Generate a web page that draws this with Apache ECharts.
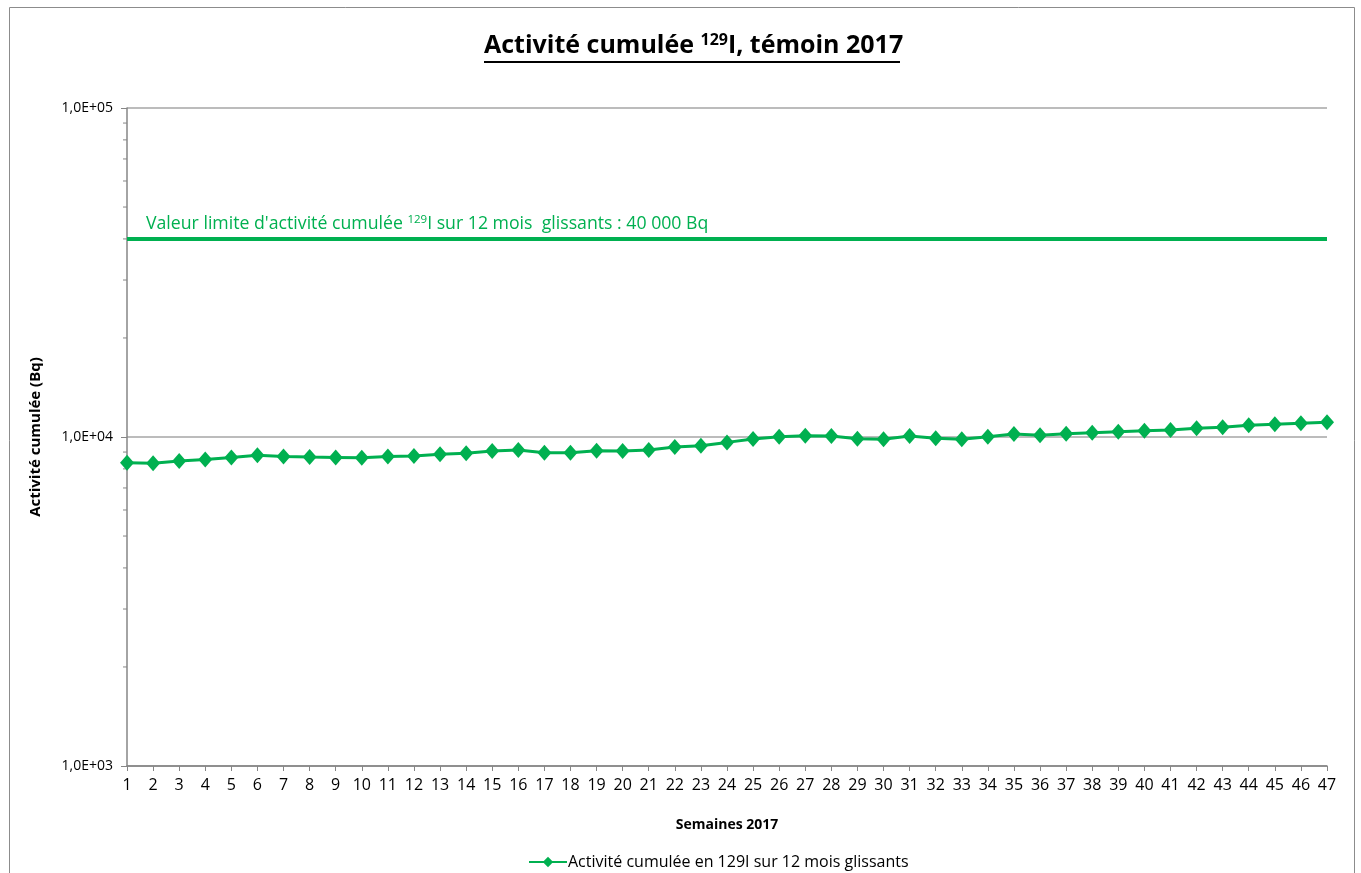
<!DOCTYPE html>
<html>
<head>
<meta charset="utf-8">
<style>
  html, body { margin: 0; padding: 0; background: #fff; }
  #chart { width: 1361px; height: 873px; }
</style>
<script src="https://cdn.jsdelivr.net/npm/echarts@6/dist/echarts.min.js"></script>
</head>
<body>
<div id="chart"></div>
<script>
// Weeks of 2017 (x categories)
const weeks = [];
for (let w = 1; w <= 47; w++) weeks.push(String(w));

// Rolling 12-month cumulative 129I activity (Bq), one value per week
const activity = [
  8350, 8320, 8450, 8550, 8670, 8800, 8730, 8690, 8670, 8650,
  8730, 8760, 8860, 8920, 9070, 9130, 8960, 8960, 9090, 9070,
  9130, 9320, 9410, 9630, 9860, 10020, 10090, 10070, 9880, 9840,
  10070, 9910, 9840, 10020, 10210, 10120, 10230, 10310, 10380, 10450,
  10500, 10630, 10700, 10850, 10930, 11010, 11090
];

// Regulatory limit over 12 rolling months (Bq)
const limitValue = 40000;

// Log axis bounds and minor tick values (2..9 x each decade)
const yMin = 1000;
const yMax = 100000;
const yMinorTicks = [2000, 3000, 4000, 5000, 6000, 7000, 8000, 9000,
                     20000, 30000, 40000, 50000, 60000, 70000, 80000, 90000];

const GREEN = '#00B050';
const FONT = '"Open Sans", "Noto Sans", sans-serif';

const chart = echarts.init(document.getElementById('chart'), null, { renderer: 'canvas' });

// Limit line: the label sits on its first point
const limitData = weeks.map((w, i) => i === 0 ? {
  value: limitValue,
  label: {
    show: true,
    position: 'right',
    offset: [14, -17],
    align: 'left',
    formatter: '{t|Valeur limite d\'activité cumulée }{s|129}{t|I sur 12 mois  glissants : 40 000 Bq}',
    rich: {
      t: { fontFamily: FONT, fontSize: 17.7, color: GREEN, verticalAlign: 'bottom', lineHeight: 22 },
      s: { fontFamily: FONT, fontSize: 11.5, color: GREEN, verticalAlign: 'bottom', padding: [0, 0, 7, 0] }
    }
  }
} : limitValue);

const option = {
  backgroundColor: '#fff',
  animation: false,
  title: {
    left: 484,
    top: 28,
    padding: 0,
    text: '{t|Activité cumulée }{s|129}{t|I, témoin 2017}',
    textStyle: {
      rich: {
        t: { fontFamily: FONT, fontSize: 25, fontWeight: 'bold', color: '#000', verticalAlign: 'bottom', lineHeight: 30 },
        s: { fontFamily: FONT, fontSize: 16, fontWeight: 'bold', color: '#000', verticalAlign: 'bottom', padding: [0, 0, 10, 0] }
      }
    }
  },
  graphic: [
    {
      type: 'rect',
      silent: true,
      shape: { x: 9.5, y: 7.5, width: 1345, height: 900 },
      style: { fill: 'none', stroke: '#8c8c8c', lineWidth: 1 }
    },
    {
      type: 'rect',
      silent: true,
      shape: { x: 484, y: 61, width: 416, height: 2 },
      style: { fill: '#000' }
    }
  ],
  legend: {
    bottom: -2,
    left: 523,
    data: ['Activité cumulée en 129I sur 12 mois glissants'],
    itemWidth: 38,
    itemHeight: 13,
    itemGap: 4,
    textStyle: { fontFamily: FONT, fontSize: 16, color: '#000', padding: [0, 0, 0, -4] }
  },
  grid: { left: 127, right: 34, top: 108, bottom: 107 },
  xAxis: {
    type: 'category',
    data: weeks,
    boundaryGap: false,
    name: 'Semaines 2017',
    nameLocation: 'middle',
    nameGap: 52,
    nameTextStyle: { fontFamily: FONT, fontSize: 14, fontWeight: 'bold', color: '#000' },
    axisLine: { lineStyle: { color: '#868686', width: 1.5 } },
    axisTick: { show: true, alignWithLabel: true, length: 5, lineStyle: { color: '#868686', width: 1 } },
    axisLabel: { fontFamily: FONT, fontSize: 16, color: '#000', margin: 11, interval: 0 },
    splitLine: { show: false }
  },
  yAxis: {
    type: 'log',
    logBase: 10,
    min: yMin,
    max: yMax,
    name: 'Activité cumulée (Bq)',
    nameLocation: 'middle',
    nameGap: 84,
    nameTextStyle: { fontFamily: FONT, fontSize: 15, fontWeight: 'bold', color: '#000' },
    axisLine: { show: true, lineStyle: { color: '#868686', width: 1.5 } },
    axisTick: { show: true, length: 6, lineStyle: { color: '#868686', width: 1 } },
    axisLabel: {
      fontFamily: FONT, fontSize: 14, color: '#000', margin: 14,
      formatter: v => {
        const e = Math.round(Math.log10(v));
        return '1,0E+' + (e < 10 ? '0' + e : e);
      }
    },
    splitLine: { show: true, lineStyle: { color: '#a6a6a6', width: 1.5 } },
    minorTick: { show: false }
  },
  series: [
    {
      name: 'Limite',
      type: 'line',
      data: limitData,
      symbol: 'circle',
      symbolSize: 0,
      showAllSymbol: true,
      lineStyle: { color: GREEN, width: 4 },
      itemStyle: { color: GREEN },
      silent: true,
      z: 3
    },
    {
      name: 'Activité cumulée en 129I sur 12 mois glissants',
      type: 'line',
      data: activity,
      symbol: 'diamond',
      symbolSize: [14, 16],
      showAllSymbol: true,
      lineStyle: { color: GREEN, width: 3 },
      itemStyle: { color: GREEN },
      z: 4
    },
    {
      // Minor ticks of the log axis, placed through the axis scale
      name: 'yMinor',
      type: 'custom',
      clip: false,
      silent: true,
      data: yMinorTicks.map(v => [0, v]),
      encode: { x: 0, y: 1 },
      renderItem: (params, api) => {
        const p = api.coord([0, api.value(1)]);
        return {
          type: 'line',
          shape: { x1: p[0] - 4, y1: p[1], x2: p[0], y2: p[1] },
          style: { stroke: '#868686', lineWidth: 1 }
        };
      },
      z: 2
    }
  ]
};

chart.setOption(option);
</script>
</body>
</html>
